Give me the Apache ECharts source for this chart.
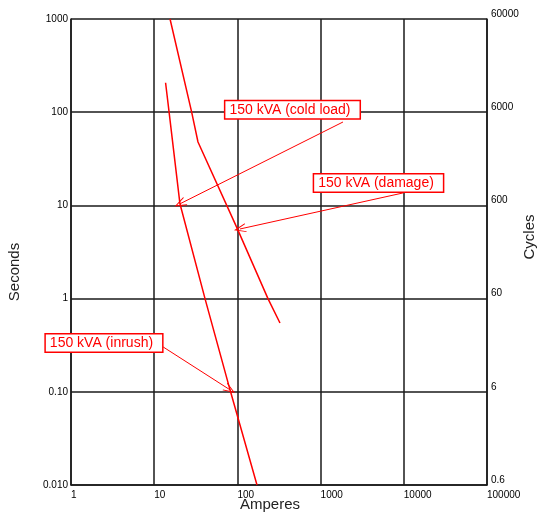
<!DOCTYPE html>
<html>
<head>
<meta charset="utf-8">
<script src="https://cdn.jsdelivr.net/npm/echarts@6/dist/echarts.min.js"></script>
<style>html,body{margin:0;padding:0;background:#fff;}#c{width:538px;height:514px;}</style>
</head>
<body>
<div id="c"></div>
<script>
// Tick labels
const xTickLabels = ['1', '10', '100', '1000', '10000', '100000'];
const secondsTickLabels = ['0.010', '0.10', '1', '10', '100', '1000'];
const cyclesTickLabels = ['0.6', '6', '60', '600', '6000', '60000'];

// Curves [amperes, seconds]
const coldLoadInrushCurve = [[13.7, 207], [15.1, 100], [20.4, 10.4], [40.8, 1], [81.5, 0.105], [172, 0.01]];
const damageCurve = [[15.5, 1000], [28.2, 100], [33.6, 47.9], [100, 5.6], [233, 1], [325, 0.547]];

// Annotations: label text, label anchor [A, s], arrow start [A, s], arrow end [A, s]
const annotationTexts = ['150 kVA (cold load)', '150 kVA (damage)', '150 kVA (inrush)'];
const annotationLabelAt = [[459, 106], [4966, 17.4], [2.49, 0.334]];
const annotationFrom = [[1858, 78.5], [9780, 13.6], [12.8, 0.303]];
const annotationTo = [[20.4, 10.4], [107, 5.58], [81.5, 0.105]];

const RED = '#ff0000';
const GRID = '#1a1a1a';
const FONT = 'Liberation Sans, Arial, sans-serif';

function decadeIndex(v, minExp) { return Math.round(Math.log10(v)) - minExp; }

const arrowHead = 'path://M5,0 L10,11 L9,11 L5,2.5 L1,11 L0,11 Z';

const chart = echarts.init(document.getElementById('c'), null, { renderer: 'canvas' });
chart.setOption({
  animation: false,
  backgroundColor: '#fff',
  grid: { left: 71, right: 51, top: 19, bottom: 29, containLabel: false },
  xAxis: {
    type: 'log', logBase: 10, min: 1, max: 100000,
    axisLine: { show: true, lineStyle: { color: GRID, width: 1.5 } },
    axisTick: { show: false },
    axisLabel: {
      show: true, fontFamily: FONT, fontSize: 10, color: '#000', margin: 5, align: 'left',
      formatter: v => xTickLabels[decadeIndex(v, 0)]
    },
    splitLine: { show: true, lineStyle: { color: GRID, width: 1.5 } },
    minorSplitLine: { show: false }
  },
  yAxis: [
    {
      type: 'log', logBase: 10, min: 0.01, max: 1000, position: 'left',
      axisLine: { show: true, lineStyle: { color: GRID, width: 1.5 } },
      axisTick: { show: false },
      axisLabel: {
        fontFamily: FONT, fontSize: 10, color: '#000', margin: 3,
        formatter: v => secondsTickLabels[decadeIndex(v, -2)]
      },
      splitLine: { show: true, lineStyle: { color: GRID, width: 1.5 } }
    },
    {
      type: 'log', logBase: 10, min: 0.01, max: 1000, position: 'right',
      axisLine: { show: true, lineStyle: { color: GRID, width: 1.5 } },
      axisTick: { show: false },
      axisLabel: {
        fontFamily: FONT, fontSize: 10, color: '#000', margin: 4, verticalAlign: 'bottom',
        formatter: v => cyclesTickLabels[decadeIndex(v, -2)]
      },
      splitLine: { show: false }
    }
  ],
  series: [
    {
      name: 'cold load / inrush', type: 'line', data: coldLoadInrushCurve,
      showSymbol: false, symbol: 'none',
      lineStyle: { color: RED, width: 1.5 }
    },
    {
      name: 'damage', type: 'line', data: damageCurve,
      showSymbol: false, symbol: 'none',
      lineStyle: { color: RED, width: 1.5 },
      markLine: {
        silent: true,
        symbol: ['none', arrowHead],
        symbolSize: [9, 12],
        lineStyle: { color: RED, width: 1, type: 'solid' },
        label: { show: false },
        data: annotationFrom.map((f, i) => [{ coord: f }, { coord: annotationTo[i] }])
      },
      markPoint: {
        silent: true,
        symbol: 'rect', symbolSize: 1,
        itemStyle: { color: 'rgba(0,0,0,0)' },
        label: {
          show: true, position: 'inside',
          fontFamily: FONT, fontSize: 14, color: RED,
          backgroundColor: '#fff', borderColor: RED, borderWidth: 1.5,
          padding: [2, 9, 1, 4]
        },
        data: annotationTexts.map((t, i) => ({ coord: annotationLabelAt[i], value: t, label: { formatter: t } }))
      }
    }
  ],
  graphic: [
    { type: 'text', left: 240, top: 497, style: { text: 'Amperes', font: '15px ' + FONT, fill: '#222' } },
    { type: 'text', x: 15, y: 272, rotation: Math.PI / 2, style: { text: 'Seconds', font: '15px ' + FONT, fill: '#222', align: 'center', verticalAlign: 'middle' } },
    { type: 'text', x: 530, y: 237, rotation: Math.PI / 2, style: { text: 'Cycles', font: '15px ' + FONT, fill: '#222', align: 'center', verticalAlign: 'middle' } }
  ]
});
</script>
</body>
</html>
